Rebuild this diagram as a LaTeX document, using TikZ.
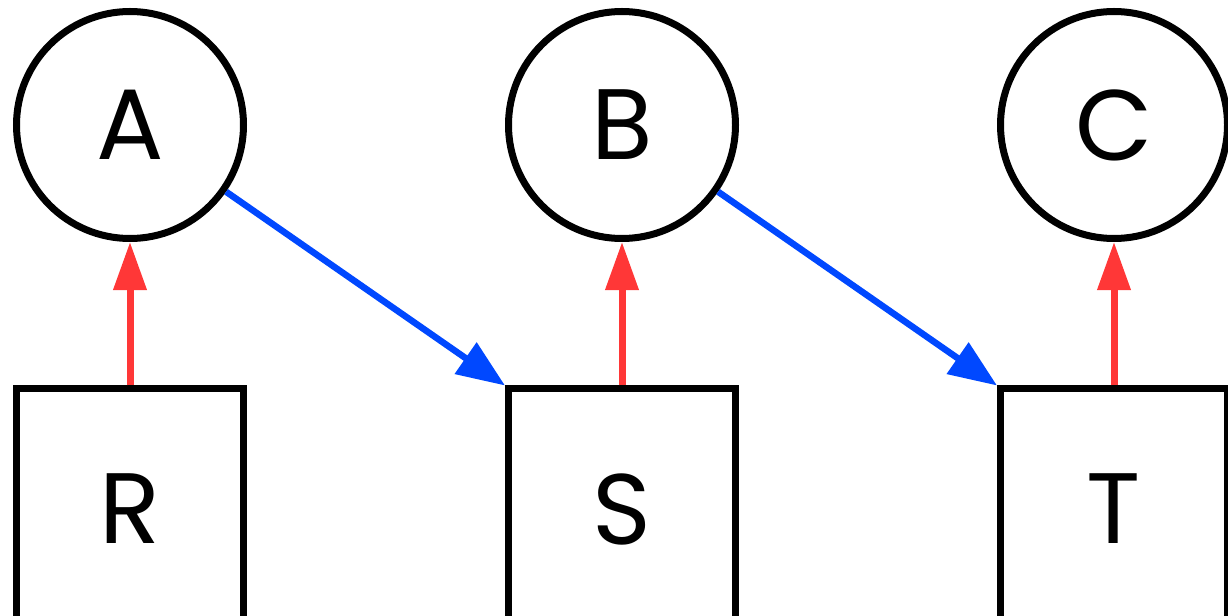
\documentclass[tikz,border=0pt]{standalone}
\usepackage{fontspec}
\setmainfont{Poppins}
\usetikzlibrary{arrows.meta}
\definecolor{blueline}{RGB}{0,72,255}
\definecolor{redline}{RGB}{255,55,55}
\tikzset{
        var/.style={circle, draw=black, line width=1.4mm, minimum size=45.4mm, inner sep=0pt, font=\fontsize{57}{57}\selectfont},
        obs/.style={rectangle, draw=black, line width=1.4mm, minimum width=45.4mm, minimum height=48mm, inner sep=0pt, font=\fontsize{57}{57}\selectfont},
        cause/.style={draw=redline, line width=1.4mm, -{Triangle[length=9.6mm, width=6.4mm, fill=redline]}},
        lag/.style={draw=blueline, line width=1.3mm, -{Triangle[length=9.6mm, width=7.4mm, fill=blueline]}}
          }
\begin{document}
\begin{tikzpicture}[x=0.2mm, y=-0.2mm]
        \useasboundingbox (0,0) rectangle (1228,616);
        \begin{scope}
        \clip (0,0) rectangle (1228,616);
        \node[var] (A) at (130,125) {A};
        \node[var] (B) at (622,125) {B};
        \node[var] (C) at (1114,125) {C};
        \node[obs] (R) at (130,509) {R};
        \node[obs] (S) at (622,509) {S};
        \node[obs] (T) at (1114,509) {T};
        \end{scope}
        \draw[cause] (R.north) -- (A.south);
        \draw[cause] (S.north) -- (B.south);
        \draw[cause] (T.north) -- (C.south);
        \draw[lag] (A) -- (S.north west);
        \draw[lag] (B) -- (T.north west);
      \end{tikzpicture}
\end{document}
